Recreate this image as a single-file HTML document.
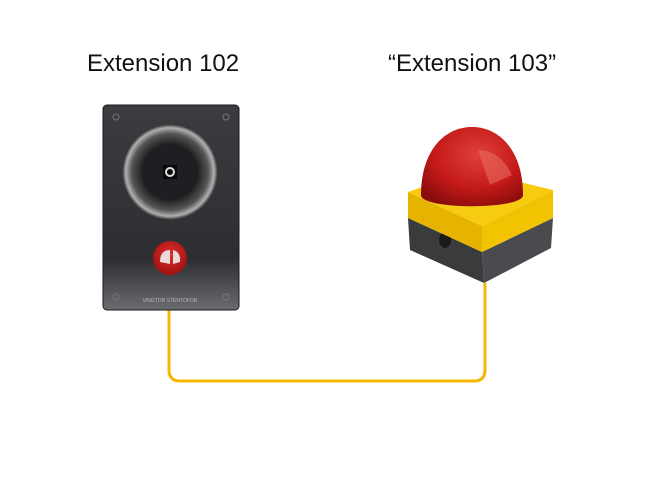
<!DOCTYPE html>
<html><head><style>
html,body{margin:0;padding:0;background:#fff;}
body{width:666px;height:479px;position:relative;overflow:hidden;font-family:"Liberation Sans",sans-serif;}
.t{position:absolute;font-size:24px;color:#111;white-space:nowrap;}
</style></head><body>
<div class="t" style="left:87px;top:50px;">Extension 102</div>
<div class="t" style="left:388px;top:50px;">“Extension 103”</div>
<svg width="666" height="479" style="position:absolute;left:0;top:0">
<defs>
<linearGradient id="pan" x1="0" y1="0" x2="0" y2="1">
<stop offset="0" stop-color="#3a3c40"/><stop offset="0.75" stop-color="#2c2e32"/><stop offset="1" stop-color="#6a6c70"/></linearGradient>
<radialGradient id="ring" cx="0.5" cy="0.5" r="0.5">
<stop offset="0.55" stop-color="#1a1a1c"/><stop offset="0.8" stop-color="#555"/><stop offset="0.92" stop-color="#b0b0b0"/><stop offset="1" stop-color="#2a2a2a"/></radialGradient>
<radialGradient id="dome" cx="0.55" cy="0.35" r="0.7">
<stop offset="0" stop-color="#e0403a"/><stop offset="0.6" stop-color="#c41a18"/><stop offset="1" stop-color="#8a0c0c"/></radialGradient>
<radialGradient id="rb" cx="0.5" cy="0.4" r="0.6">
<stop offset="0" stop-color="#e03030"/><stop offset="1" stop-color="#a01010"/></radialGradient>
</defs>
<path d="M169 310 V370 Q169 381 180 381 H474 Q485 381 485 370 V283" fill="none" stroke="#f5b800" stroke-width="3"/>
<rect x="103" y="105" width="136" height="205" rx="4" fill="url(#pan)" stroke="#1a1a1a"/>
<circle cx="170" cy="172" r="48" fill="url(#ring)"/>
<circle cx="170" cy="172" r="27" fill="#1e1f22"/>
<rect x="163" y="165" width="14" height="14" fill="#0a0a0a"/>
<circle cx="170" cy="172" r="4" fill="none" stroke="#ddd" stroke-width="2"/>
<circle cx="170" cy="258" r="17" fill="url(#rb)"/>
<path d="M160 262 Q160 250 170 250 L170 264 Z M173 250 Q181 252 180 262 L173 264 Z" fill="#eee" opacity="0.9"/>
<g fill="none" stroke="#777"><circle cx="116" cy="117" r="3"/><circle cx="226" cy="117" r="3"/><circle cx="116" cy="297" r="3"/><circle cx="226" cy="297" r="3"/></g>
<text x="170" y="302" font-size="5" fill="#bbb" text-anchor="middle" font-family="Liberation Sans">VINGTOR STENTOFON</text>
<polygon points="408,218 482,252 484,283 410,250" fill="#3a3b3d"/>
<polygon points="482,252 553,218 551,248 484,283" fill="#4a4b4e"/>
<ellipse cx="445" cy="240" rx="6" ry="8" fill="#1a1a1a"/>
<polygon points="408,192 482,226 482,252 408,218" fill="#e6b400"/>
<polygon points="482,226 553,190 553,218 482,252" fill="#f2c300"/>
<polygon points="408,192 470,170 553,190 482,226" fill="#f7cb10"/>
<path d="M421 195 C421 150 445 127 472 127 C499 127 523 150 523 195 C523 210 421 210 421 195 Z" fill="url(#dome)"/>
<path d="M478 150 Q500 150 512 175 L490 185 Z" fill="#e86a60" opacity="0.6"/>
</svg>
</body></html>
